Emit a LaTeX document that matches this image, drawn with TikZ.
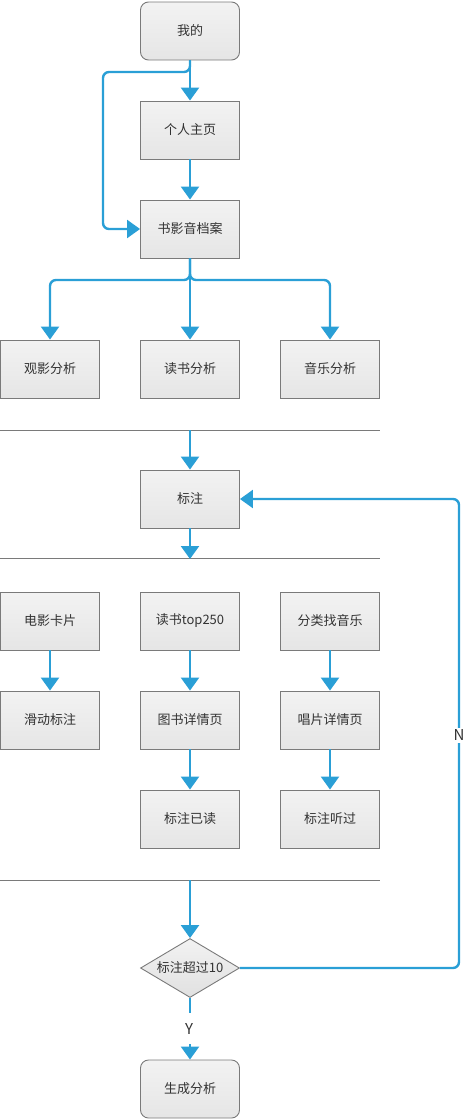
\documentclass[tikz,border=0pt]{standalone}
\usepackage{fontspec}
\setmainfont{Noto Sans CJK SC}
\usetikzlibrary{arrows.meta,shapes.geometric}
\definecolor{flowblue}{HTML}{2A9FD6}
\definecolor{boxline}{HTML}{7A7A7A}
\definecolor{txt}{HTML}{333333}
\tikzset{
  box/.style={draw=boxline, line width=0.9pt, top color=black!5, bottom color=black!10,
    minimum width=99pt, minimum height=58pt, inner sep=0pt, text=txt,
    font=\fontsize{13}{15}\selectfont},
  rbox/.style={box, rounded corners=8pt},
  dia/.style={draw=boxline, line width=0.9pt, top color=black!5, bottom color=black!12,
    diamond, aspect=2, minimum width=99pt, minimum height=59pt, inner sep=0pt, text=txt,
    font=\fontsize{13}{15}\selectfont},
  flow/.style={draw=flowblue, line width=2.4pt, -{Triangle[width=18pt,length=13pt]}},
  flowplain/.style={draw=flowblue, line width=2.4pt},
  sepline/.style={draw=boxline, line width=0.9pt},
  lab/.style={text=txt, font=\fontsize{15}{17}\selectfont, inner sep=2pt}
}
\begin{document}
\begin{tikzpicture}[x=1pt,y=-1pt]
\useasboundingbox (0,0) rectangle (475,1119);
% nodes
\node[rbox] (me) at (190,31) {我的};
\node[box] (home) at (190,130) {个人主页};
\node[box] (archive) at (190,229) {书影音档案};
\node[box] (a1) at (50,369) {观影分析};
\node[box] (a2) at (190,369) {读书分析};
\node[box] (a3) at (330,369) {音乐分析};
\node[box] (mark) at (190,499) {标注};
\node[box] (c1) at (50,621) {电影卡片};
\node[box] (c2) at (190,621) {读书top250};
\node[box] (c3) at (330,621) {分类找音乐};
\node[box] (d1) at (50,720) {滑动标注};
\node[box] (d2) at (190,720) {图书详情页};
\node[box] (d3) at (330,720) {唱片详情页};
\node[box] (e2) at (190,819) {标注已读};
\node[box] (e3) at (330,819) {标注听过};
\node[dia] (check) at (190,968) {标注超过10};
\node[rbox] (result) at (190,1089) {生成分析};
% separator lines
\coordinate (s1l) at (0,430); \coordinate (s1r) at (380,430);
\coordinate (s2l) at (0,558); \coordinate (s2r) at (380,558);
\coordinate (s3l) at (0,880); \coordinate (s3r) at (380,880);
\draw[sepline] (s1l) -- (s1r);
\draw[sepline] (s2l) -- (s2r);
\draw[sepline] (s3l) -- (s3r);
\coordinate (s1) at (190,430);
\coordinate (s2) at (190,559);
\coordinate (s3) at (190,880);
% connectors
\draw[flow] (me) -- (home);
\draw[flow, rounded corners=6pt] (me.south) |- (103,72) |- (archive.west);
\draw[flow] (home) -- (archive);
\draw[flow, rounded corners=6pt] (archive.south) |- (50,280) -- (a1.north);
\draw[flow] (archive) -- (a2);
\draw[flow, rounded corners=6pt] (archive.south) |- (330,280) -- (a3.north);
\draw[flow] (s1) -- (mark.north);
\draw[flow] (mark.south) -- (s2);
\draw[flow] (c1) -- (d1);
\draw[flow] (c2) -- (d2);
\draw[flow] (d2) -- (e2);
\draw[flow] (c3) -- (d3);
\draw[flow] (d3) -- (e3);
\draw[flow] (s3) -- (check.north);
\draw[flowplain] (check.south) -- (190,1013);
\node[lab] (ylab) at (189,1029) {Y};
\coordinate (yend) at (190,1044);
\draw[flow] (yend) -- (result.north);
\draw[flow, rounded corners=6pt] (check.east) -- (459,968) |- (mark.east);
\node[lab, fill=white] (nlab) at (459,735) {N};
\end{tikzpicture}
\end{document}
